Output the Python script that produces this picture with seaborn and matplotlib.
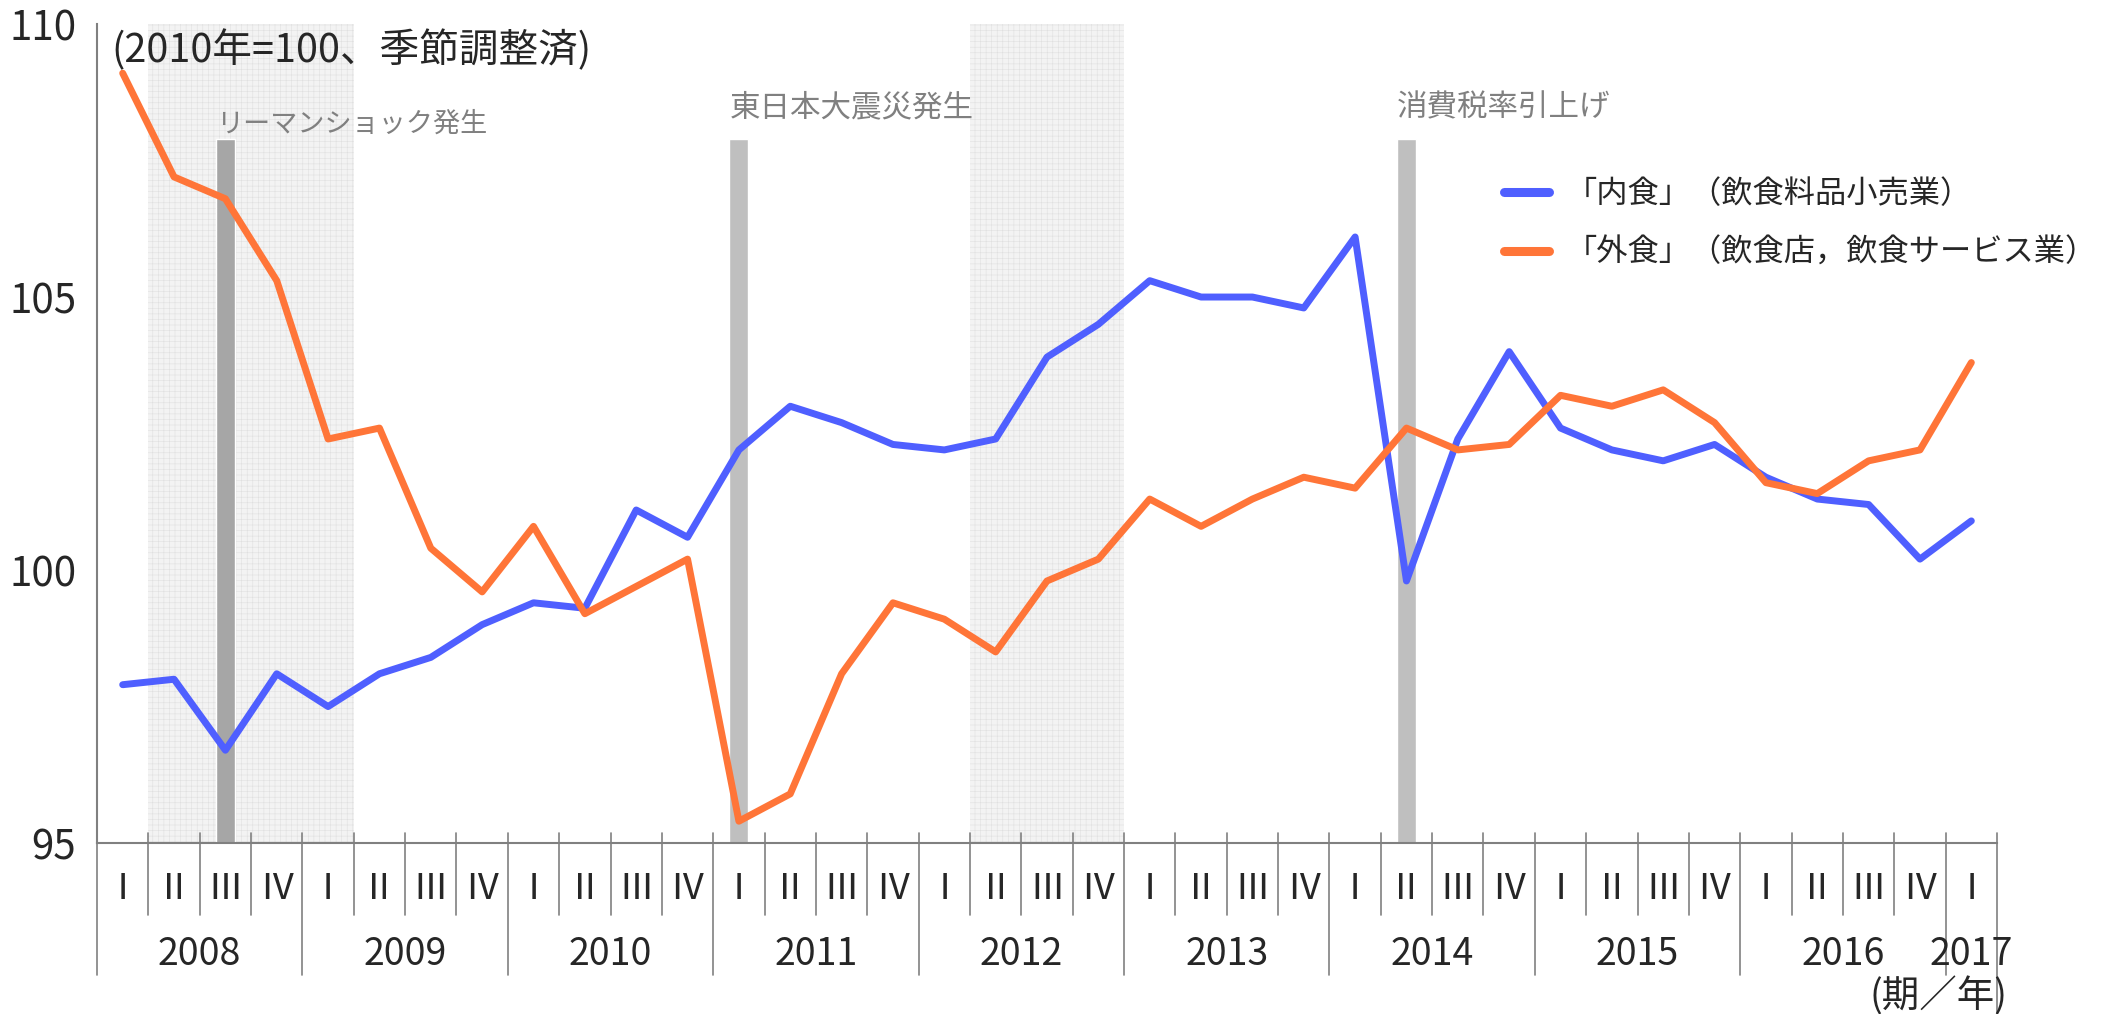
import numpy as np
import pandas as pd
import matplotlib
matplotlib.use('Agg')
import matplotlib.pyplot as plt
import matplotlib.transforms as mtransforms
import seaborn as sns

# quarterly index, 2008 I .. 2017 I (2010 = 100, seasonally adjusted)
years = ['2008', '2009', '2010', '2011', '2012', '2013', '2014', '2015', '2016', '2017']
quarters = ['Ⅰ', 'Ⅱ', 'Ⅲ', 'Ⅳ']
naishoku = [97.9, 98.0, 96.7, 98.1, 97.5, 98.1, 98.4, 99.0, 99.4, 99.3, 101.1, 100.6,
            102.2, 103.0, 102.7, 102.3, 102.2, 102.4, 103.9, 104.5, 105.3, 105.0, 105.0, 104.8,
            106.1, 99.8, 102.4, 104.0, 102.6, 102.2, 102.0, 102.3, 101.7, 101.3, 101.2, 100.2,
            100.9]
gaishoku = [109.1, 107.2, 106.8, 105.3, 102.4, 102.6, 100.4, 99.6, 100.8, 99.2, 99.7, 100.2,
            95.4, 95.9, 98.1, 99.4, 99.1, 98.5, 99.8, 100.2, 101.3, 100.8, 101.3, 101.7,
            101.5, 102.6, 102.2, 102.3, 103.2, 103.0, 103.3, 102.7, 101.6, 101.4, 102.0, 102.2,
            103.8]
series_names = ['「内食」（飲食料品小売業）', '「外食」（飲食店，飲食サービス業）']
series_colors = ['#4f5fff', '#ff7538']

# recessions (quarter index ranges) and events
recessions = [(1, 4), (17, 19)]
event_idx = [2, 12, 25]
event_top = 107.9
event_labels = ['リーマンショック発生', '東日本大震災発生', '消費税率引上げ']
event_colors = ['#a6a6a6', '#bfbfbf', '#bfbfbf']

n = len(naishoku)
qlabels = [quarters[i % 4] for i in range(n)]

df = pd.DataFrame({
    'q': list(range(n)) * 2,
    'value': naishoku + gaishoku,
    'series': [series_names[0]] * n + [series_names[1]] * n,
})

sns.set_style('white')
plt.rcParams['font.family'] = ['Noto Sans CJK JP', 'DejaVu Sans']
plt.rcParams['hatch.linewidth'] = 0.4

fig = plt.figure(figsize=(21.09, 10.14), dpi=100)
ax = fig.add_axes([0.046, 0.1686, 0.9009, 0.8077])

for a, b in recessions:
    ax.axvspan(a - 0.5, b + 0.5, facecolor='#f3f3f3', edgecolor='#e0e0e0',
               hatch='+++', linewidth=0, zorder=0)

ax.bar(event_idx, [event_top - 95] * len(event_idx), bottom=95, width=0.37,
       color=event_colors, zorder=1)

sns.lineplot(data=df, x='q', y='value', hue='series', palette=dict(zip(series_names, series_colors)),
             linewidth=5, ax=ax, zorder=3, legend=True)

# event labels
for i, lab in zip(event_idx, event_labels):
    if i == event_idx[0]:
        ax.text(i - 0.185, 108.17, lab, fontsize=19.5, color='#808080', ha='left', va='center')
    else:
        ax.text(i - 0.185, 108.46, lab, fontsize=22, color='#808080', ha='left', va='center')

ax.text(-0.22, 109.52, '(2010年=100、季節調整済)', fontsize=28.5, ha='left', va='center')

ax.set_xlim(-0.5, n - 0.5)
ax.set_ylim(95, 110)
ax.set_yticks([95, 100, 105, 110])
ax.tick_params(axis='y', direction='inout', length=14, width=1.2, color='#808080',
               labelsize=29, pad=8)
ax.set_xticks([])
ax.set_xlabel('')
ax.set_ylabel('')
for s in ['top', 'right']:
    ax.spines[s].set_visible(False)
for s in ['left', 'bottom']:
    ax.spines[s].set_color('#808080')
    ax.spines[s].set_linewidth(1.5)

# two-level category axis
tr = mtransforms.blended_transform_factory(ax.transData, ax.transAxes)
for k in range(n + 1):
    x = k - 0.5
    if k == n:
        y0, y1 = 0.0122, -0.209
    elif k % 4 == 0:
        y0, y1 = 0.0122 if k else 0.0, -0.161
    else:
        y0, y1 = 0.0122, -0.0879
    ax.plot([x, x], [y0, y1], transform=tr, color='#808080', linewidth=1.2, clip_on=False)
for i, lab in enumerate(qlabels):
    ax.text(i, -0.0562, lab, transform=tr, ha='center', va='center', fontsize=26)
for j, yr in enumerate(years):
    start = j * 4
    stop = min(start + 4, n)
    ax.text((start + stop - 1) / 2, -0.1355, yr, transform=tr, ha='center', va='center',
            fontsize=27)
ax.text(n - 0.3, -0.188, '(期／年)', transform=tr, ha='right', va='center', fontsize=27)

handles, labels = ax.get_legend_handles_labels()
leg = ax.legend(handles, labels, loc='upper left', bbox_to_anchor=(1488 / 2109, 1 - 162 / 1014),
                bbox_transform=fig.transFigure, frameon=False, fontsize=22.5,
                handlelength=1.45, handletextpad=0.55, labelspacing=0.86, borderpad=0)
for h in leg.get_lines():
    h.set_linewidth(6.5)

fig.savefig('out.png', dpi=100)
